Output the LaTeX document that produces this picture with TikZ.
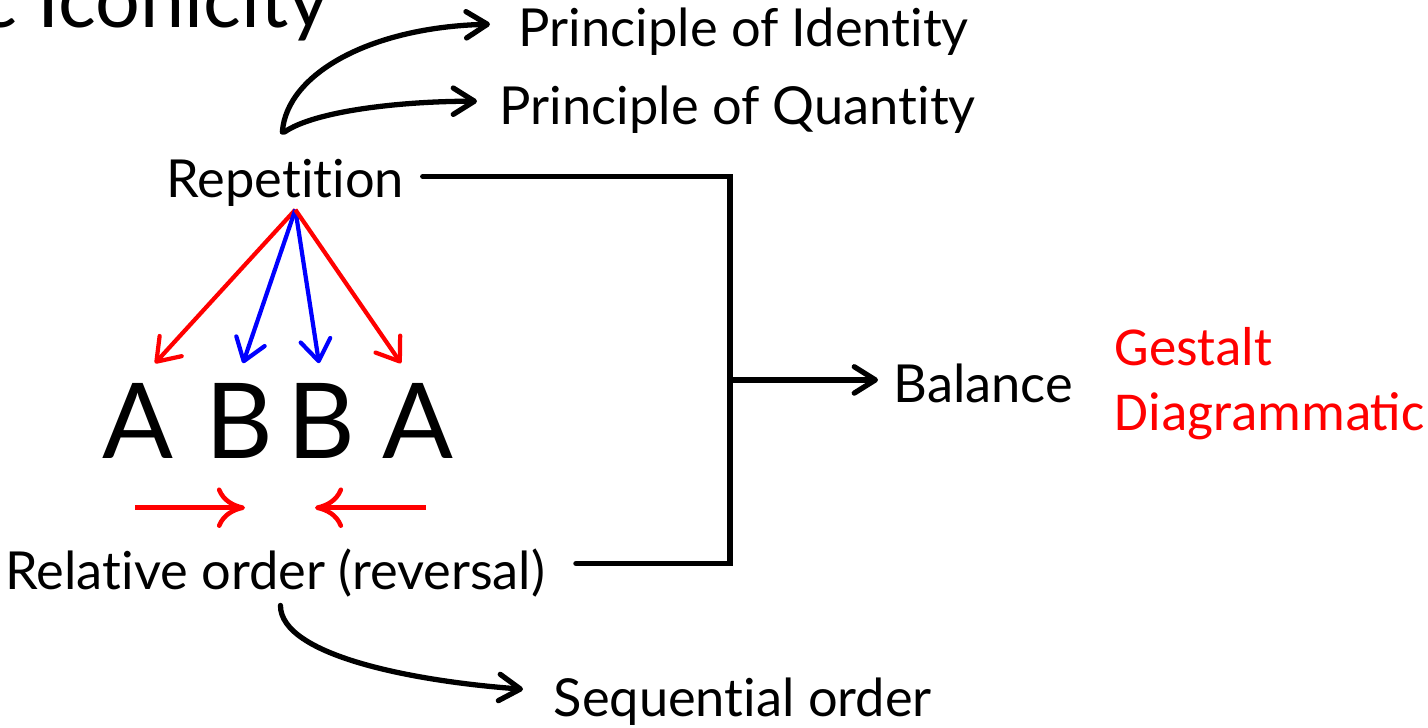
\documentclass[tikz,border=0pt]{standalone}
\usepackage{fontspec}
\setmainfont{Lato}[Ligatures={NoCommon,NoContextual},Contextuals={NoAlternate}]
\newfontfamily\calfont{Carlito}
\usetikzlibrary{arrows.meta,calc}
\definecolor{pred}{HTML}{FF0000}
\definecolor{pblue}{HTML}{0000FF}

\begin{document}
\begin{tikzpicture}[x=0.01cm,y=-0.01cm,
 lbl/.style={inner sep=0pt,anchor=base west,font=\fontsize{14.9}{17}\selectfont},
 big/.style={inner sep=0pt,anchor=base,font=\fontsize{29.8}{34}\selectfont},
 note/.style={inner sep=0pt,anchor=base west,text=pred,font=\calfont\fontsize{15.6}{18}\selectfont},
 conn/.style={line width=1.5pt,line cap=round},
 arr/.style={conn,-{Straight Barb[length=6pt,width=7.5pt,round]}},
 fan/.style={line width=1.2pt,-{Straight Barb[length=6pt,width=8.5pt,round]}},
 push/.style={pred,line width=1.3pt,-{Computer Modern Rightarrow[length=8pt,width=11.5pt]}}]
\useasboundingbox (0,0) rectangle (1428,727);
% title, cut off by the page edge
\node[inner sep=0pt,anchor=base east,font=\fontsize{22.5}{26}\selectfont] (title) at (330,27) {c Iconicity};

\node[lbl] (ident) at (518,46) {Principle of Identity};
\node[lbl] (quant) at (499,124) {Principle of Quantity};
\node[lbl] (rep) at (166,197) {Repetition};
\node[big] (a1) at (138,458) {A};
\node[big] (b1) at (239,458) {B};
\node[big] (b2) at (321,458) {B};
\node[big] (a2) at (418,458) {A};
\node[lbl] (rel) at (5,589) {Relative order (reversal)};
\node[lbl] (seq) at (553,716) {Sequential order};
\node[lbl] (bal) at (893,402) {Balance};
\node[note] (gest) at (1114,365) {Gestalt};
\node[note] (diag) at (1114,430) {Diagrammatic};

% repetition -> principles
\draw[arr] ($(rep.north)+(-3,-26)$) .. controls +(4,-58) and +(-120,3) .. ($(ident.west)+(-28,-7)$);
\draw[arr] ($(rep.north)+(-1,-26)$) .. controls +(30,-21) and +(-77,0) .. ($(quant.west)+(-22,-8)$);

% repetition -> letters
\coordinate (src) at ($(rep.south)+(10,3)$);
\draw[fan,pred] (src) -- ($(a1.north)+(17,-19)$);
\draw[fan,pblue] (src) -- ($(b1.north)+(4,-19)$);
\draw[fan,pblue] (src) -- ($(b2.north)+(-2,-19)$);
\draw[fan,pred] (src) -- ($(a2.north)+(-17,-19)$);

% reversal
\draw[push] ($(a1.south)+(-3,49)$) -- ($(b1.south)+(6,49)$);
\draw[push] ($(a2.south)+(8,49)$) -- ($(b2.south)+(-6,49)$);

% relative order -> sequential order
\draw[arr] ($(rel.south)+(5,8)$) .. controls +(0,50) and +(-110,-8) .. ($(seq.west)+(-30,-12)$);

% bracket -> balance
\coordinate (jn) at ($(bal.west)+(-163,-3)$);
\draw[conn] ($(rep.east)+(18,-6)$) -| (jn) |- ($(rel.east)+(30,-9)$);
\draw[arr] (jn) -- ($(bal.west)+(-15,-3)$);
\end{tikzpicture}
\end{document}
